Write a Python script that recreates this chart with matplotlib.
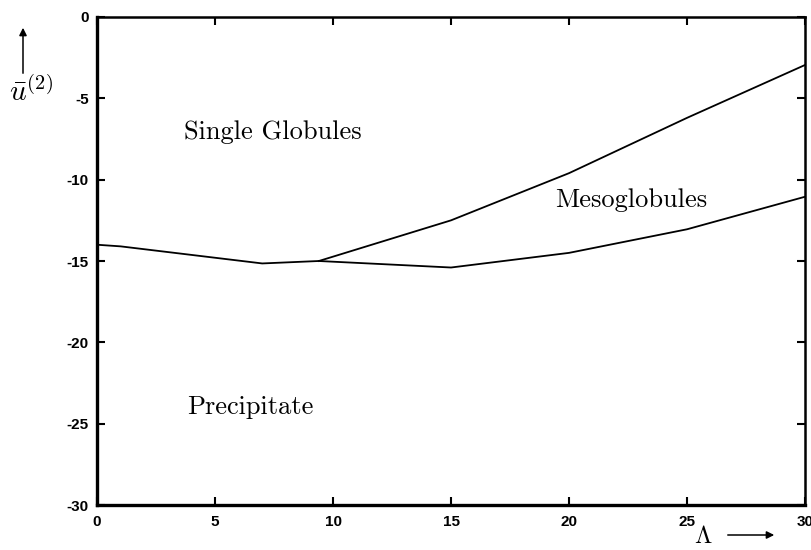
import matplotlib
matplotlib.use("Agg")
import matplotlib.pyplot as plt

# Phase boundaries
lower_x = [0, 1, 7, 9.4, 15, 20, 25, 30]
lower_y = [-14.0, -14.1, -15.15, -15.0, -15.4, -14.5, -13.05, -11.05]
upper_x = [9.4, 15, 20, 25, 30]
upper_y = [-15.0, -12.5, -9.6, -6.2, -2.95]

xticks = [0, 5, 10, 15, 20, 25, 30]
yticks = [0, -5, -10, -15, -20, -25, -30]

plt.rcParams["mathtext.fontset"] = "cm"

fig = plt.figure(figsize=(8.12, 5.5), dpi=100)
ax = fig.add_axes([0.1195, 0.0818, 0.8719, 0.8873])

ax.plot(lower_x, lower_y, color="black", lw=1.3)
ax.plot(upper_x, upper_y, color="black", lw=1.3)

ax.set_xlim(0, 30)
ax.set_ylim(-30, 0)
ax.set_xticks(xticks)
ax.set_yticks(yticks)
ax.set_xticklabels([str(t) for t in xticks], fontsize=11, fontweight="bold",
                   family="Liberation Sans")
ax.set_yticklabels([str(t) for t in yticks], fontsize=11, fontweight="bold",
                   family="Liberation Sans")
ax.tick_params(direction="in", length=6, width=1.5, top=True, right=True)
ax.tick_params(axis="x", pad=7)
ax.tick_params(axis="y", pad=6)

for side in ["left", "bottom"]:
    ax.spines[side].set_linewidth(2.4)
for side in ["top", "right"]:
    ax.spines[side].set_linewidth(1.8)

serif = dict(family="cmr10", fontsize=19, color="black")
ax.text(3.7, -7.1, "Single Globules", va="center", ha="left", **serif)
ax.text(19.4, -11.25, "Mesoglobules", va="center", ha="left", **serif)
ax.text(3.8, -24.0, "Precipitate", va="center", ha="left", **serif)

# axis labels with arrows, as in the original
fig.text(0.038, 1 - 92 / 550, r"$\bar{u}^{(2)}$", fontsize=21, ha="center", va="center")
fig.add_artist(matplotlib.patches.FancyArrowPatch(
    (23 / 812, 1 - 76 / 550), (23 / 812, 1 - 25 / 550), transform=fig.transFigure,
    arrowstyle="-|>", mutation_scale=11, lw=1.1, color="black"))
fig.text(703 / 812, 1 - 543 / 550, r"$\Lambda$", fontsize=18, ha="center", va="baseline")
fig.add_artist(matplotlib.patches.FancyArrowPatch(
    (725 / 812, 1 - 535 / 550), (777 / 812, 1 - 535 / 550), transform=fig.transFigure,
    arrowstyle="-|>", mutation_scale=11, lw=1.1, color="black"))

fig.savefig("out.png", dpi=100)
